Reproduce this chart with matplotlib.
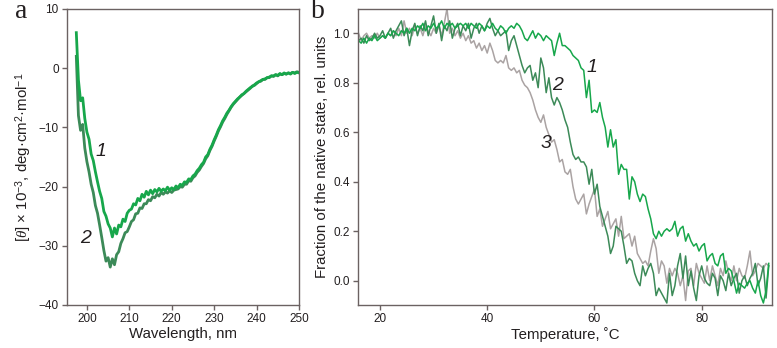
import numpy as np
import matplotlib
matplotlib.use('Agg')
import matplotlib.pyplot as plt

plt.rcParams['font.family'] = ['Liberation Sans', 'DejaVu Sans']
plt.rcParams['mathtext.fontset'] = 'custom'
plt.rcParams['mathtext.rm'] = 'Liberation Sans'
plt.rcParams['mathtext.it'] = 'Liberation Serif:italic'

# ---- panel a: CD spectra ----
wl = np.arange(197.5, 250.01, 0.5)
cd_1 = [6.0, -2.0, -5.5, -5.0, -8.5, -10.8, -12.0, -14.5, -15.6, -17.5,
        -19.2, -20.8, -22.0, -24.2, -25.0, -26.3, -27.0, -28.5, -27.0, -28.0,
        -26.5, -26.8, -25.5, -25.9, -24.5, -24.0, -23.8, -22.9, -23.1, -22.0,
        -22.4, -21.3, -21.8, -20.8, -21.4, -20.6, -21.2, -20.5, -20.9, -20.3,
        -20.8, -20.4, -20.7, -20.1, -20.6, -20.2, -20.5, -19.9, -20.2, -19.6,
        -19.8, -19.2, -19.3, -18.7, -18.8, -18.2, -17.9, -17.3, -16.9, -16.3,
        -15.9, -15.0, -14.6, -13.7, -13.0, -12.1, -11.3, -10.4, -9.7, -8.9,
        -8.3, -7.6, -7.1, -6.5, -6.0, -5.6, -5.2, -4.9, -4.5, -4.3,
        -3.9, -3.6, -3.3, -3.1, -2.8, -2.5, -2.3, -2.1, -1.9, -1.8,
        -1.6, -1.5, -1.3, -1.3, -1.1, -1.2, -0.9, -1.1, -0.8, -1.0,
        -0.8, -1.0, -0.7, -0.9, -0.7, -0.8]
cd_2 = [2.0, -8.0, -10.5, -9.5, -13.5, -15.8, -17.5, -19.6, -21.0, -23.2,
        -24.5, -26.5, -28.6, -30.8, -32.6, -32.0, -33.6, -32.2, -33.2, -31.5,
        -31.0, -29.6, -28.8, -27.8, -27.6, -26.8, -25.9, -25.6, -24.6, -24.5,
        -23.6, -23.7, -22.9, -22.9, -22.2, -22.4, -21.7, -21.9, -21.3, -21.6,
        -21.0, -21.3, -20.9, -21.1, -20.7, -21.0, -20.6, -20.5, -20.4, -20.0,
        -20.1, -19.6, -19.6, -19.0, -19.1, -18.5, -18.2, -17.6, -17.2, -16.6,
        -16.1, -15.3, -14.8, -13.9, -13.2, -12.3, -11.5, -10.6, -9.9, -9.1,
        -8.5, -7.8, -7.2, -6.6, -6.1, -5.7, -5.3, -4.9, -4.6, -4.3,
        -4.0, -3.7, -3.4, -3.0, -2.9, -2.6, -2.3, -2.2, -1.9, -1.9,
        -1.6, -1.6, -1.3, -1.4, -1.1, -1.3, -1.0, -1.1, -0.9, -1.0,
        -0.8, -0.9, -0.7, -0.8, -0.6, -0.7]

# ---- panel b: melting curves (0.5 deg steps, 16.0 ... 92.5) ----
temp = np.arange(16.0, 92.51, 0.5)
frac_1 = [0.97, 0.96, 0.98, 0.96, 0.98, 0.97, 0.99, 0.97, 0.98, 0.99,   # 16-20.5
          0.98, 1.00, 0.99, 1.01, 1.00, 0.99, 1.01, 1.00, 1.02, 1.00,   # 21-25.5
          1.02, 1.01, 1.03, 1.02, 1.04, 1.01, 1.03, 1.02, 1.04, 1.02,   # 26-30.5
          1.03, 1.05, 1.02, 1.04, 1.03, 1.04, 1.02, 1.03, 1.04, 1.03,   # 31-35.5
          1.04, 1.02, 1.04, 1.03, 1.02, 1.04, 1.03, 1.01, 1.03, 1.02,   # 36-40.5
          1.04, 1.02, 1.01, 1.03, 1.02, 1.00, 1.02, 1.03, 1.02, 1.04,   # 41-45.5
          1.03, 1.01, 0.98, 0.97, 0.99, 1.01, 0.98, 1.00, 0.99, 0.97,   # 46-50.5
          0.99, 0.98, 0.97, 0.91, 0.96, 1.00, 0.95, 0.95, 0.94, 0.93,   # 51-55.5
          0.91, 0.90, 0.89, 0.86, 0.85, 0.74, 0.81, 0.68, 0.69, 0.68,   # 56-60.5
          0.72, 0.66, 0.62, 0.54, 0.61, 0.54, 0.57, 0.43, 0.47, 0.45,   # 61-65.5
          0.45, 0.33, 0.42, 0.40, 0.35, 0.32, 0.35, 0.34, 0.29, 0.25,   # 66-70.5
          0.19, 0.17, 0.20, 0.18, 0.20, 0.21, 0.20, 0.21, 0.24, 0.18,   # 71-75.5
          0.21, 0.22, 0.16, 0.19, 0.16, 0.14, 0.15, 0.12, 0.14, 0.15,   # 76-80.5
          0.08, 0.10, 0.11, 0.07, 0.06, 0.10, 0.11, 0.03, 0.05, 0.04,   # 81-85.5
          0.00, -0.05, -0.01, -0.02, -0.03, -0.01, 0.00, -0.03, -0.05, 0.00,  # 86-90.5
          -0.06, -0.09, -0.04, 0.07]                                    # 91-92.5
frac_2 = [0.97, 0.98, 0.96, 0.99, 0.97, 0.98, 1.00, 0.98, 0.99, 1.01,
          0.98, 1.00, 1.02, 0.98, 1.01, 1.03, 1.05, 0.99, 1.02, 0.95,
          1.01, 1.04, 0.99, 1.03, 1.01, 1.05, 0.99, 1.03, 1.07, 1.00,
          1.04, 0.97, 1.03, 1.01, 1.05, 0.98, 1.02, 1.04, 0.99, 1.03,
          1.01, 1.04, 0.98, 1.02, 1.04, 1.00, 1.03, 1.01, 1.04, 1.06,
          1.02, 0.99, 1.01, 0.99, 1.00, 1.01, 0.93, 0.97, 0.99, 0.95,
          0.91, 0.87, 0.84, 0.86, 0.87, 0.81, 0.84, 0.78, 0.90, 0.86,
          0.76, 0.82, 0.74, 0.71, 0.74, 0.72, 0.69, 0.65, 0.62, 0.56,
          0.51, 0.49, 0.50, 0.48, 0.48, 0.46, 0.39, 0.45, 0.35, 0.39,
          0.30, 0.26, 0.22, 0.18, 0.11, 0.14, 0.22, 0.21, 0.20, 0.14,
          0.07, 0.09, 0.08, 0.03, 0.00, -0.02, 0.06, 0.02, 0.05, 0.07,
          0.03, -0.06, -0.03, -0.05, -0.07, -0.09, 0.03, -0.06, -0.02, 0.06,
          0.11, 0.01, 0.10, -0.02, 0.04, -0.03, -0.08, 0.02, 0.06, 0.01,
          -0.01, -0.02, 0.03, 0.01, -0.06, 0.02, 0.00, -0.04, 0.03, -0.02,
          0.01, 0.03, -0.05, 0.00, 0.02, -0.02, 0.01, 0.03, 0.07, -0.02,
          0.01, 0.06, -0.07, 0.06]
frac_3 = [1.00, 0.97, 0.99, 1.00, 0.98, 0.99, 0.98, 1.00, 0.98, 0.99,
          0.98, 1.00, 0.99, 1.01, 0.99, 1.02, 0.99, 1.05, 1.00, 1.02,
          0.99, 1.03, 1.00, 1.02, 0.99, 1.03, 1.01, 0.99, 1.02, 1.00,
          1.03, 0.99, 1.04, 1.10, 1.00, 1.02, 0.99, 1.01, 0.98, 1.00,
          0.97, 0.99, 0.96, 0.97, 0.94, 0.96, 0.93, 0.95, 0.92, 0.96,
          0.93, 0.89, 0.88, 0.89, 0.88, 0.91, 0.86, 0.85, 0.86, 0.84,
          0.85, 0.81, 0.79, 0.78, 0.76, 0.73, 0.69, 0.66, 0.64, 0.67,
          0.62, 0.59, 0.56, 0.57, 0.53, 0.48, 0.49, 0.44, 0.43, 0.45,
          0.38, 0.33, 0.31, 0.33, 0.35, 0.27, 0.31, 0.34, 0.37, 0.26,
          0.29, 0.22, 0.25, 0.28, 0.21, 0.23, 0.25, 0.18, 0.26, 0.17,
          0.18, 0.19, 0.14, 0.18, 0.11, 0.09, 0.07, 0.08, 0.06, 0.12,
          0.17, 0.13, 0.03, 0.08, 0.06, -0.01, 0.05, 0.02, 0.05, 0.03,
          -0.02, 0.02, -0.08, 0.04, 0.05, -0.02, 0.07, 0.03, 0.01, -0.01,
          0.06, 0.00, 0.06, 0.02, -0.02, 0.05, 0.02, 0.08, 0.03, 0.00,
          0.06, 0.00, 0.05, 0.02, 0.01, 0.06, 0.12, 0.02, 0.04, 0.07,
          0.06, 0.05, 0.07, 0.06]

green = '#17a74b'
dark_green = '#3c8a58'
grey = '#aaa3a3'
ink = '#231f20'
frame = '#6b6262'

fig = plt.figure(figsize=(7.77, 3.48), dpi=100)
ax_a = fig.add_axes([0.0862, 0.1236, 0.2986, 0.8506])
ax_b = fig.add_axes([0.4607, 0.1236, 0.5328, 0.8506])

for ax in (ax_a, ax_b):
    for s in ax.spines.values():
        s.set_color(frame)
        s.set_linewidth(1.0)
    ax.tick_params(direction='out', length=3.5, width=1.0, color=frame,
                   labelsize=8.5, labelcolor=ink, pad=2.5)

# panel a
ax_a.plot(wl, cd_2, color=dark_green, lw=2.0)
ax_a.plot(wl, cd_1, color=green, lw=2.0)
ax_a.set_xlim(195.3, 250)
ax_a.set_ylim(-40, 10)
ax_a.set_xticks([200, 210, 220, 230, 240, 250])
ax_a.set_yticks([-40, -30, -20, -10, 0, 10])
ax_a.set_xlabel('Wavelength, nm', fontsize=10.8, color=ink, labelpad=1)
ax_a.set_ylabel(r'[$\mathit{\theta}$] × 10$^{-3}$, deg·cm$^{2}$·mol$^{-1}$',
                fontsize=10.8, color=ink, labelpad=3)
ax_a.text(203.2, -14.0, '1', fontsize=14, style='italic', color=ink,
          ha='center', va='center')
ax_a.text(199.6, -28.7, '2', fontsize=14, style='italic', color=ink,
          ha='center', va='center')

# panel b
ax_b.plot(temp, frac_3, color=grey, lw=1.1)
ax_b.plot(temp, frac_2, color=dark_green, lw=1.1)
ax_b.plot(temp, frac_1, color=green, lw=1.1)
ax_b.set_xlim(15.9, 93.1)
ax_b.set_ylim(-0.098, 1.098)
ax_b.set_xticks([20, 40, 60, 80])
ax_b.set_yticks([0.0, 0.2, 0.4, 0.6, 0.8, 1.0])
ax_b.set_yticklabels(['0.0', '0.2', '0.4', '0.6', '0.8', '1.0'])
ax_b.set_xlabel('Temperature, ˚C', fontsize=10.8, color=ink, labelpad=1)
ax_b.set_ylabel('Fraction of the native state, rel. units',
                fontsize=10.8, color=ink, labelpad=3)
for txt, tx, ty in [('1', 59.55, 0.862), ('2', 53.1, 0.787), ('3', 50.9, 0.553)]:
    ax_b.text(tx, ty, txt, fontsize=14, style='italic', color=ink,
              ha='center', va='center')

# panel letters
fig.text(21 / 777, 1 - 12 / 348, 'a', fontsize=20, family='Liberation Serif',
         color=ink, ha='center', va='center')
fig.text(318 / 777, 1 - 11 / 348, 'b', fontsize=20, family='Liberation Serif',
         color=ink, ha='center', va='center')

fig.savefig('out.png', dpi=100)
